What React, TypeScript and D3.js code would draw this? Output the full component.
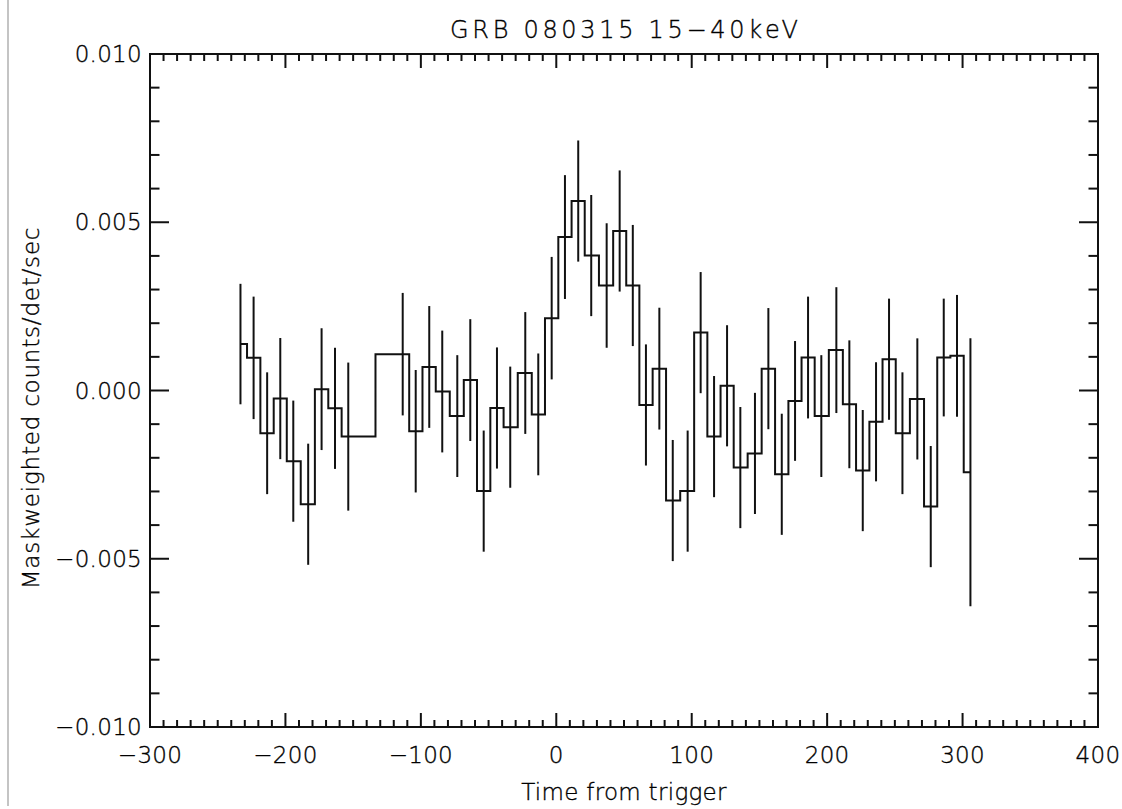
import React from "react";
import * as d3 from "d3";

// GRB 080315, 15-40 keV mask-weighted light curve (values in counts/det/sec)
const times = [
  -233.2, -223.5, -213.5, -203.8, -194.2, -183.2, -173.3, -163.4, -153.6,
  -113.4, -103.8, -93.8, -84.2, -73.1, -63.5, -53.6, -43.8, -34.0, -22.9,
  -13.3, -3.4, 6.4, 16.2, 25.8, 37.2, 46.8, 56.5, 66.2, 76.1, 86.0, 97.0,
  106.6, 116.5, 126.1, 135.9, 146.7, 156.6, 166.5, 176.3, 185.9, 195.7,
  206.8, 216.4, 226.3, 236.1, 245.7, 255.6, 266.6, 276.5, 286.1, 295.9, 305.8,
];
const rates = [
  1.38, 0.97, -1.27, -0.24, -2.1, -3.38, 0.04, -0.53, -1.37,
  1.08, -1.21, 0.7, -0.03, -0.76, 0.31, -2.99, -0.52, -1.09, 0.52,
  -0.71, 2.15, 4.56, 5.63, 4.01, 3.12, 4.74, 3.12, -0.43, 0.65, -3.27, -2.99,
  1.72, -1.37, 0.14, -2.29, -1.87, 0.65, -2.49, -0.31, 0.98, -0.76,
  1.2, -0.41, -2.38, -0.93, 0.93, -1.27, -0.25, -3.45, 0.98, 1.03, -2.43,
].map((v) => v * 1e-3);
const errors = [
  1.79, 1.82, 1.81, 1.8, 1.8, 1.8, 1.81, 1.8, 2.2,
  1.82, 1.82, 1.81, 1.81, 1.81, 1.81, 1.8, 1.8, 1.8, 1.81,
  1.81, 1.82, 1.84, 1.8, 1.8, 1.85, 1.8, 1.8, 1.8, 1.81, 1.8, 1.8,
  1.8, 1.8, 1.8, 1.8, 1.8, 1.8, 1.8, 1.78, 1.81, 1.81,
  1.87, 1.9, 1.8, 1.77, 1.8, 1.81, 1.8, 1.8, 1.75, 1.81, 3.98,
].map((v) => v * 1e-3);

const xMajor = [-300, -200, -100, 0, 100, 200, 300, 400];
const yMajor = [-0.01, -0.005, 0, 0.005, 0.01];

const title = "GRB 080315 15\u221240keV";
const xTitle = "Time from trigger";
const yTitle = "Maskweighted counts/det/sec";

const W = 1122;
const H = 809;
const left = 150;
const right = 1098;
const top = 54;
const bottom = 727;

const ink = "#111";
const font = "'DejaVu Sans', sans-serif";

export default function App() {
  const x = d3.scaleLinear().domain([-300, 400]).range([left, right]);
  const y = d3.scaleLinear().domain([-0.01, 0.01]).range([bottom, top]);

  const xMinor = d3.range(-300, 401, 10).filter((v) => v % 100 !== 0);
  const yMinor = d3.range(-10, 11, 1).filter((v) => v % 5 !== 0).map((v) => v / 1000);

  const xLen = 14;
  const yLen = 19;

  const pts = times.map((t, i) => [t, rates[i]] as [number, number]);
  const step = d3
    .line<[number, number]>()
    .x((d) => x(d[0]))
    .y((d) => y(d[1]))
    .curve(d3.curveStep)(pts);

  const fmtY = d3.format(".3f");
  const fmtX = d3.format("d");

  const txt = {
    fontFamily: font,
    fontSize: 23,
    fontWeight: 200,
    letterSpacing: 0.3,
    fill: "#000",
    stroke: "#000",
    strokeWidth: 0.35,
  } as React.CSSProperties;

  return (
    <svg
      width={W}
      height={H}
      style={{ position: "absolute", left: 0, top: 0, background: "#fff" }}
    >
      <line x1={8} x2={8} y1={0} y2={806} stroke="#c4c4c4" strokeWidth={2} />

      {/* frame */}
      <rect
        x={left}
        y={top}
        width={right - left}
        height={bottom - top}
        fill="none"
        stroke={ink}
        strokeWidth={2}
      />

      {/* x ticks, bottom and top */}
      {xMajor.map((v) => (
        <g key={"xM" + v}>
          <line x1={x(v)} x2={x(v)} y1={bottom} y2={bottom - xLen} stroke={ink} strokeWidth={2} />
          <line x1={x(v)} x2={x(v)} y1={top} y2={top + xLen} stroke={ink} strokeWidth={2} />
        </g>
      ))}
      {xMinor.map((v) => (
        <g key={"xm" + v}>
          <line x1={x(v)} x2={x(v)} y1={bottom} y2={bottom - xLen / 2} stroke={ink} strokeWidth={2} />
          <line x1={x(v)} x2={x(v)} y1={top} y2={top + xLen / 2} stroke={ink} strokeWidth={2} />
        </g>
      ))}

      {/* y ticks, left and right */}
      {yMajor.map((v) => (
        <g key={"yM" + v}>
          <line x1={left} x2={left + yLen} y1={y(v)} y2={y(v)} stroke={ink} strokeWidth={2} />
          <line x1={right} x2={right - yLen} y1={y(v)} y2={y(v)} stroke={ink} strokeWidth={2} />
        </g>
      ))}
      {yMinor.map((v) => (
        <g key={"ym" + v}>
          <line x1={left} x2={left + yLen / 2} y1={y(v)} y2={y(v)} stroke={ink} strokeWidth={2} />
          <line x1={right} x2={right - yLen / 2} y1={y(v)} y2={y(v)} stroke={ink} strokeWidth={2} />
        </g>
      ))}

      {/* tick labels */}
      {xMajor.map((v) => (
        <text key={"xl" + v} x={x(v)} y={763} textAnchor="middle" style={txt}>
          {fmtX(v)}
        </text>
      ))}
      {yMajor.map((v) => (
        <text
          key={"yl" + v}
          x={142}
          y={y(v) + 8}
          textAnchor="end"
          style={txt}
        >
          {fmtY(v)}
        </text>
      ))}

      {/* titles */}
      <text
        x={(left + right) / 2}
        y={38}
        textAnchor="middle"
        textLength={348}
        lengthAdjust="spacing"
        style={{ ...txt, fontSize: 24, letterSpacing: 0 }}
      >
        {title}
      </text>
      <text x={(left + right) / 2} y={800} textAnchor="middle" style={txt}>
        {xTitle}
      </text>
      <text
        transform={`translate(39,408) rotate(-90)`}
        textAnchor="middle"
        style={{ ...txt, letterSpacing: 0.8 }}
      >
        {yTitle}
      </text>

      {/* histogram */}
      <path d={step ?? ""} fill="none" stroke={ink} strokeWidth={2} />

      {/* error bars */}
      {times.map((t, i) => (
        <line
          key={"e" + i}
          x1={x(t)}
          x2={x(t)}
          y1={y(rates[i] - errors[i])}
          y2={y(rates[i] + errors[i])}
          stroke={ink}
          strokeWidth={2}
        />
      ))}
    </svg>
  );
}
